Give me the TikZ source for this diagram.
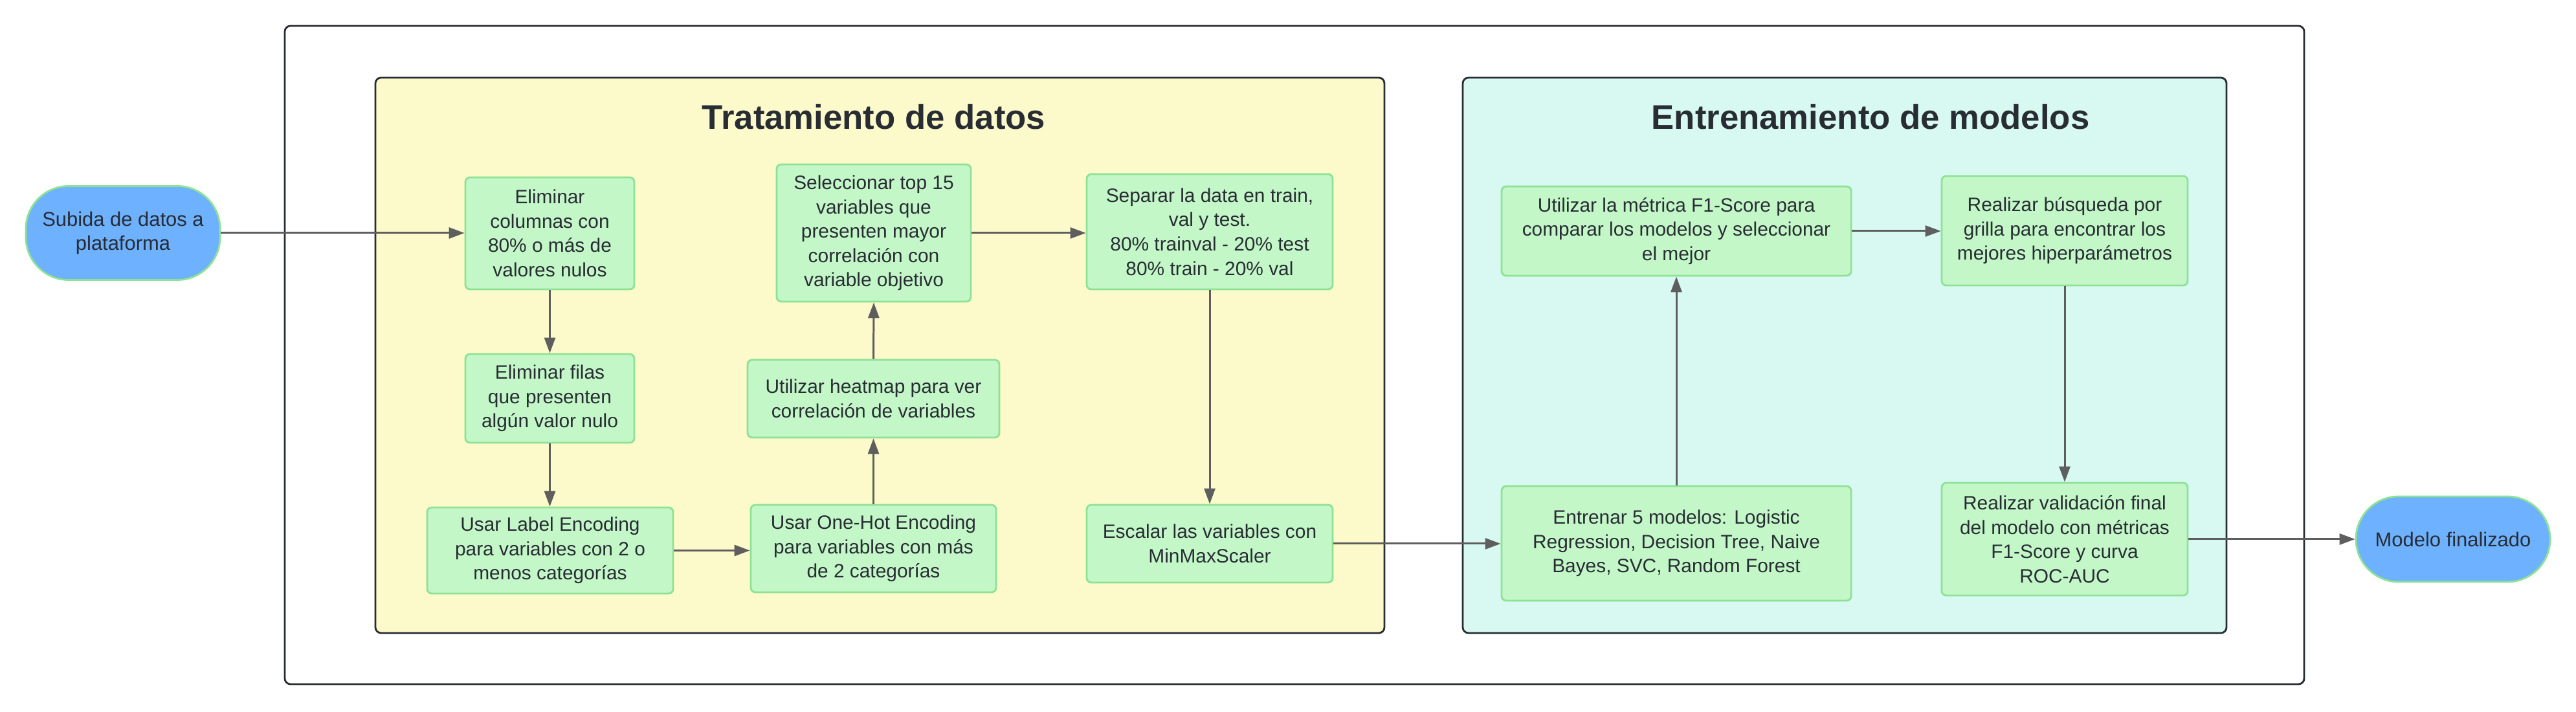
\documentclass[tikz,border=0pt]{standalone}
\usepackage{fontspec}
\setmainfont{Liberation Sans}
\usepackage{xcolor}
\usetikzlibrary{arrows.meta, positioning, calc}

\begin{document}
\begin{tikzpicture}[
    x=1cm, y=1cm,
    >=Stealth,
    every node/.style={font=\fontsize{8.5}{10.7}\selectfont, align=center, text=inkTone},
    frame/.style={
      rectangle, rounded corners=2.5pt,
      draw=inkTone, line width=0.8pt
    },
    phase/.style={
      rectangle, rounded corners=2.5pt,
      draw=inkTone, line width=0.8pt
    },
    phaseTitle/.style={font=\fontsize{15}{18}\selectfont\bfseries},
    task/.style={
      rectangle, rounded corners=2pt,
      draw=greenLine, fill=greenFill, line width=0.8pt,
      inner sep=2pt
    },
    terminal/.style={
      rectangle, rounded corners=0.66cm,
      draw=greenLine, fill=pillFill, line width=0.8pt,
      minimum width=3.00cm, font=\fontsize{8.8}{10.8}\selectfont
    },
    arr/.style={-{Triangle[length=0.24cm, width=0.17cm]}, draw=arrowTone, line width=0.85pt}
  ]
    \definecolor{inkTone}{RGB}{40,44,51}
    \definecolor{arrowTone}{RGB}{94,94,94}
    \definecolor{greenLine}{RGB}{142,226,150}
    \definecolor{greenFill}{RGB}{195,247,200}
    \definecolor{pillFill}{RGB}{109,177,255}
    \definecolor{yellowFill}{RGB}{252,250,202}
    \definecolor{cyanFill}{RGB}{215,249,242}

    \useasboundingbox (0,0) rectangle (39.80,11.00);

    % contenedores
    \node[frame, minimum width=31.20cm, minimum height=10.17cm] (outer) at (20.00,5.515) {};
    \node[phase, fill=yellowFill, minimum width=15.59cm, minimum height=8.58cm] (prep) at (13.595,5.51) {};
    \node[phase, fill=cyanFill, minimum width=11.80cm, minimum height=8.58cm] (train) at (28.50,5.51) {};
    \node[phaseTitle] (prepTitle) at (13.50,9.19) {Tratamiento de datos};
    \node[phaseTitle] (trainTitle) at (28.90,9.19) {Entrenamiento de modelos};

    % extremos
    \node[terminal, minimum height=1.45cm] (upload) at (1.90,7.40) {Subida de datos a\\plataforma};
    \node[terminal, minimum height=1.32cm] (final) at (37.90,2.67) {Modelo finalizado};

    % tratamiento de datos
    \node[task, minimum width=2.61cm, minimum height=1.73cm] (dropCols) at (8.495,7.395)
      {Eliminar\\columnas con\\80\% o más de\\valores nulos};
    \node[task, minimum width=2.61cm, minimum height=1.37cm] (dropRows) at (8.495,4.845)
      {Eliminar filas\\que presenten\\algún valor nulo};
    \node[task, minimum width=3.80cm, minimum height=1.33cm] (labelEnc) at (8.50,2.495)
      {Usar Label Encoding\\para variables con 2 o\\menos categorías};
    \node[task, minimum width=3.79cm, minimum height=1.35cm] (oneHot) at (13.495,2.525)
      {Usar One-Hot Encoding\\para variables con más\\de 2 categorías};
    \node[task, minimum width=3.89cm, minimum height=1.20cm] (heatmap) at (13.495,4.84)
      {Utilizar heatmap para ver\\correlación de variables};
    \node[task, minimum width=3.00cm, minimum height=2.12cm] (topVars) at (13.50,7.40)
      {Seleccionar top 15\\variables que\\presenten mayor\\correlación con\\variable objetivo};
    \node[task, minimum width=3.80cm, minimum height=1.78cm] (split) at (18.69,7.42)
      {Separar la data en train,\\val y test.\\80\% trainval - 20\% test\\80\% train - 20\% val};
    \node[task, minimum width=3.80cm, minimum height=1.20cm] (scale) at (18.69,2.60)
      {Escalar las variables con\\MinMaxScaler};

    % entrenamiento de modelos
    \node[task, minimum width=5.40cm, minimum height=1.38cm] (metric) at (25.90,7.43)
      {Utilizar la métrica F1-Score para\\comparar los modelos y seleccionar\\el mejor};
    \node[task, minimum width=3.80cm, minimum height=1.69cm] (grid) at (31.90,7.435)
      {Realizar búsqueda por\\grilla para encontrar los\\mejores hiperparámetros};
    \node[task, minimum width=5.40cm, minimum height=1.77cm] (fit) at (25.90,2.605)
      {Entrenar 5 modelos: Logistic\\Regression, Decision Tree, Naive\\Bayes, SVC, Random Forest};
    \node[task, minimum width=3.80cm, minimum height=1.74cm] (validate) at (31.90,2.67)
      {Realizar validación final\\del modelo con métricas\\F1-Score y curva\\ROC-AUC};

    \draw[arr] (upload.east) -- (upload.east -| dropCols.west);
    \draw[arr] (dropCols.south) -- (dropRows.north);
    \draw[arr] (dropRows.south) -- (dropRows.south |- labelEnc.north);
    \draw[arr] (labelEnc.east) -- (labelEnc.east -| oneHot.west);
    \draw[arr] (oneHot.north) -- (heatmap.south);
    \draw[arr] (heatmap.north) -- (topVars.south);
    \draw[arr] (topVars.east) -- (topVars.east -| split.west);
    \draw[arr] (split.south) -- (scale.north);
    \draw[arr] (scale.east) -- (scale.east -| fit.west);
    \draw[arr] (fit.north) -- (metric.south);
    \draw[arr] (metric.east) -- (metric.east -| grid.west);
    \draw[arr] (grid.south) -- (validate.north);
    \draw[arr] (validate.east) -- (final.west);
  \end{tikzpicture}
\end{document}
